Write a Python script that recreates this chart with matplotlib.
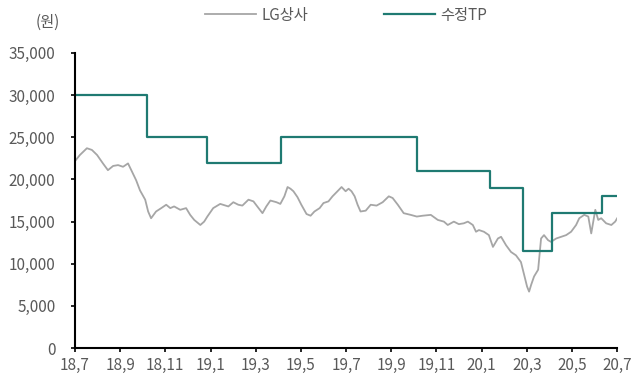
import matplotlib
matplotlib.use('Agg')
import matplotlib.pyplot as plt
import numpy as np

plt.rcParams['font.family'] = ['Noto Sans CJK KR', 'DejaVu Sans']

# x positions are months counted from 2018-07-01
price_month = [0.04, 0.22, 0.53, 0.75, 0.98, 1.24, 1.46, 1.69, 1.91, 2.13,
               2.35, 2.53, 2.71, 2.88, 3.11, 3.24, 3.37, 3.59, 3.82, 4.04,
               4.22, 4.39, 4.66, 4.92, 5.10, 5.28, 5.55, 5.72, 5.86, 6.12,
               6.43, 6.79, 7.01, 7.23, 7.41, 7.68, 7.90, 8.07, 8.30, 8.47,
               8.65, 8.92, 9.09, 9.27, 9.41, 9.54, 9.67, 9.85, 10.02, 10.25,
               10.43, 10.60, 10.83, 11.00, 11.22, 11.40, 11.62, 11.80, 11.98, 12.11,
               12.24, 12.38, 12.51, 12.64, 12.87, 13.09, 13.35, 13.62, 13.89, 14.06,
               14.29, 14.55, 14.86, 15.13, 15.39, 15.75, 16.06, 16.33, 16.50, 16.77,
               16.99, 17.21, 17.39, 17.61, 17.75, 17.88, 18.10, 18.32, 18.50, 18.72,
               18.86, 19.08, 19.30, 19.52, 19.74, 19.88, 20.01, 20.10, 20.19, 20.32,
               20.50, 20.63, 20.76, 20.94, 21.07, 21.30, 21.52, 21.74, 21.96, 22.18,
               22.32, 22.54, 22.72, 22.85, 22.94, 23.03, 23.16, 23.29, 23.51, 23.74,
               23.91, 24.00]
price_value = [22300, 22900, 23700, 23500, 22900, 21900, 21100, 21600, 21700, 21500,
               21900, 20900, 19900, 18700, 17600, 16200, 15400, 16200, 16600, 17000,
               16600, 16800, 16400, 16600, 15800, 15200, 14600, 15000, 15600, 16600,
               17100, 16800, 17300, 17000, 16900, 17600, 17400, 16800, 16000, 16800,
               17500, 17300, 17100, 18000, 19100, 18900, 18600, 17900, 17000, 15900,
               15700, 16200, 16600, 17200, 17400, 18000, 18600, 19100, 18600, 18900,
               18600, 18000, 17000, 16200, 16300, 17000, 16900, 17300, 18000, 17800,
               17000, 16000, 15800, 15600, 15700, 15800, 15200, 15000, 14600, 15000,
               14700, 14800, 15000, 14600, 13800, 14000, 13800, 13400, 12000, 13000,
               13200, 12200, 11400, 11000, 10200, 8700, 7300, 6700, 7500, 8500,
               9300, 13000, 13400, 12800, 12600, 13000, 13200, 13400, 13800, 14600,
               15400, 15800, 15600, 13600, 15000, 16400, 15200, 15400, 14800, 14600,
               15000, 15400]

tp_month = [0, 3.19, 5.86, 9.14, 15.13, 18.37, 19.83, 21.12, 23.34, 24.0]
tp_value = [30000, 25000, 22000, 25000, 21000, 19000, 11500, 16000, 18000, 18000]

xtick_pos = list(range(0, 25, 2))
xtick_labels = ['18,7', '18,9', '18,11', '19,1', '19,3', '19,5', '19,7',
                '19,9', '19,11', '20,1', '20,3', '20,5', '20,7']
ytick_pos = list(range(0, 35001, 5000))

text_col = '#595959'

fig = plt.figure(figsize=(6.35, 3.78), dpi=100)
ax = fig.add_axes([0.118, 0.079, 0.854, 0.781])

ax.plot(price_month, price_value, color='#a6a6a6', lw=1.3, label='LG상사')
ax.plot(tp_month, tp_value, color='#1f7a72', lw=1.6, drawstyle='steps-post', label='수정TP')

ax.set_xlim(0, 24)
ax.set_ylim(0, 35000)
ax.set_xticks(xtick_pos)
ax.set_xticklabels(xtick_labels)
ax.set_yticks(ytick_pos)
ax.set_yticklabels([f'{v:,}' for v in ytick_pos])

for s in ['top', 'right']:
    ax.spines[s].set_visible(False)
for s in ['left', 'bottom']:
    ax.spines[s].set_linewidth(1.5)
    ax.spines[s].set_color('black')

ax.tick_params(axis='both', direction='out', length=3, width=1.2,
               labelsize=11, labelcolor=text_col)
ax.tick_params(axis='y', pad=11)
ax.tick_params(axis='x', pad=3)

fig.text(0.075, 0.94, '(원)', fontsize=11, color=text_col, ha='center', va='center')

fig.legend(loc='center', bbox_to_anchor=(0.545, 0.96), ncol=2, frameon=False,
           fontsize=11, labelcolor=text_col, handlelength=3.3,
           handletextpad=0.35, columnspacing=5.0)

fig.savefig('out.png', dpi=100)
